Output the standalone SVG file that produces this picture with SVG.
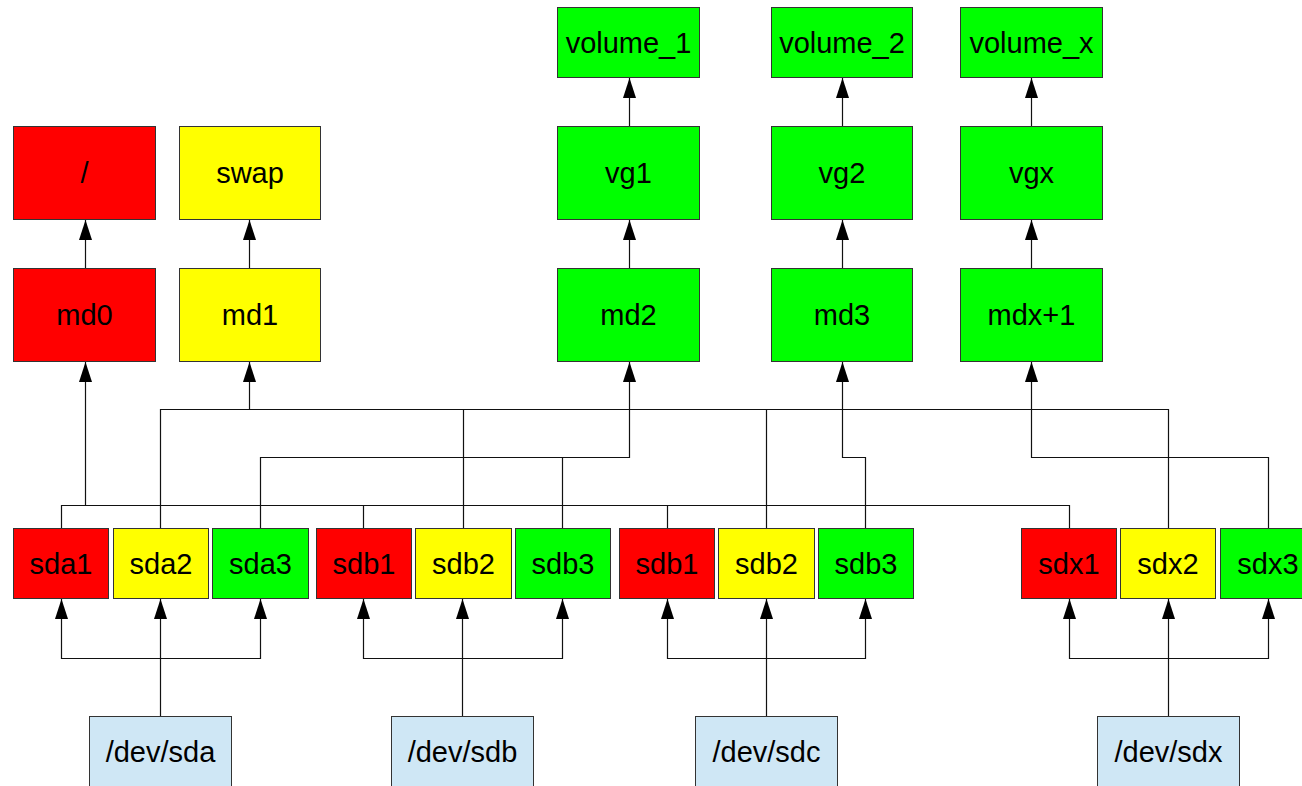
<svg xmlns="http://www.w3.org/2000/svg" width="1302" height="786" viewBox="0 0 1302 786">
<style>
rect{stroke:#333;stroke-width:1}
.r{fill:#ff0000}.y{fill:#ffff00}.g{fill:#00ff00}.b{fill:#cfe7f5}
text{font-family:"Liberation Sans",Arial,sans-serif;font-size:29px;fill:#000;text-anchor:middle}
.c path{fill:none;stroke:#111;stroke-width:1.2}
</style>
<defs>
<marker id="a" markerUnits="userSpaceOnUse" viewBox="0 0 20 13" refX="20" refY="6.5" markerWidth="20" markerHeight="13" orient="auto">
<path d="M0,0 L20,6.5 L0,13 Z" fill="#000"/>
</marker>
</defs>
<rect width="1302" height="786" fill="#fff" style="stroke:none"/>
<g class="c" id="connectors">
<path d="M85.5,268 V220" marker-end="url(#a)"/>
<path d="M249.5,268 V220" marker-end="url(#a)"/>
<path d="M629.5,268 V220" marker-end="url(#a)"/>
<path d="M842.5,268 V220" marker-end="url(#a)"/>
<path d="M1031.5,268 V220" marker-end="url(#a)"/>
<path d="M629.5,126 V78" marker-end="url(#a)"/>
<path d="M842.5,126 V78" marker-end="url(#a)"/>
<path d="M1031.5,126 V78" marker-end="url(#a)"/>
<path d="M61.5,528 V505.5 H1069.5 V528 M363.5,505.5 V528 M667.5,505.5 V528"/>
<path d="M85.5,505.5 V362" marker-end="url(#a)"/>
<path d="M160.5,528 V409.5 H1168.5 V528 M463.5,409.5 V528 M766.5,409.5 V528"/>
<path d="M249.5,409.5 V362" marker-end="url(#a)"/>
<path d="M260.5,528 V457.5 H629.5 V362" marker-end="url(#a)"/>
<path d="M562.5,457.5 V528"/>
<path d="M865.5,528 V457.5 H842.5 V362" marker-end="url(#a)"/>
<path d="M1268.5,528 V457.5 H1031.5 V362" marker-end="url(#a)"/>
<path d="M160.5,716 V599" marker-end="url(#a)"/>
<path d="M160.5,658.5 H61.5 V599" marker-end="url(#a)"/>
<path d="M160.5,658.5 H260.5 V599" marker-end="url(#a)"/>
<path d="M462.5,716 V599" marker-end="url(#a)"/>
<path d="M462.5,658.5 H363.5 V599" marker-end="url(#a)"/>
<path d="M462.5,658.5 H562.5 V599" marker-end="url(#a)"/>
<path d="M766.5,716 V599" marker-end="url(#a)"/>
<path d="M766.5,658.5 H667.5 V599" marker-end="url(#a)"/>
<path d="M766.5,658.5 H865.5 V599" marker-end="url(#a)"/>
<path d="M1168.5,716 V599" marker-end="url(#a)"/>
<path d="M1168.5,658.5 H1069.5 V599" marker-end="url(#a)"/>
<path d="M1168.5,658.5 H1268.5 V599" marker-end="url(#a)"/>
</g>
<g id="vol1"><rect class="g" x="557.5" y="7.5" width="142" height="70"/><text x="628.5" y="53">volume_1</text></g>
<g id="vol2"><rect class="g" x="771.5" y="7.5" width="141" height="70"/><text x="842" y="53">volume_2</text></g>
<g id="volx"><rect class="g" x="960.5" y="7.5" width="142" height="70"/><text x="1031.5" y="53">volume_x</text></g>
<g id="root"><rect class="r" x="13.5" y="126.5" width="142" height="93"/><text x="84.5" y="183">/</text></g>
<g id="swap"><rect class="y" x="179.5" y="126.5" width="141" height="93"/><text x="250" y="183">swap</text></g>
<g id="vg1"><rect class="g" x="557.5" y="126.5" width="142" height="93"/><text x="628.5" y="183">vg1</text></g>
<g id="vg2"><rect class="g" x="771.5" y="126.5" width="141" height="93"/><text x="842" y="183">vg2</text></g>
<g id="vgx"><rect class="g" x="960.5" y="126.5" width="142" height="93"/><text x="1031.5" y="183">vgx</text></g>
<g id="md0"><rect class="r" x="13.5" y="268.5" width="142" height="93"/><text x="84.5" y="325">md0</text></g>
<g id="md1"><rect class="y" x="179.5" y="268.5" width="141" height="93"/><text x="250" y="325">md1</text></g>
<g id="md2"><rect class="g" x="557.5" y="268.5" width="142" height="93"/><text x="628.5" y="325">md2</text></g>
<g id="md3"><rect class="g" x="771.5" y="268.5" width="141" height="93"/><text x="842" y="325">md3</text></g>
<g id="mdx1"><rect class="g" x="960.5" y="268.5" width="142" height="93"/><text x="1031.5" y="325">mdx+1</text></g>
<g id="sda1"><rect class="r" x="13.5" y="528.5" width="95" height="70"/><text x="61" y="574">sda1</text></g>
<g id="sda2"><rect class="y" x="113.5" y="528.5" width="95" height="70"/><text x="161" y="574">sda2</text></g>
<g id="sda3"><rect class="g" x="212.5" y="528.5" width="96" height="70"/><text x="260.5" y="574">sda3</text></g>
<g id="sdb1"><rect class="r" x="316.5" y="528.5" width="95" height="70"/><text x="364" y="574">sdb1</text></g>
<g id="sdb2"><rect class="y" x="415.5" y="528.5" width="96" height="70"/><text x="463.5" y="574">sdb2</text></g>
<g id="sdb3"><rect class="g" x="515.5" y="528.5" width="95" height="70"/><text x="563" y="574">sdb3</text></g>
<g id="sdc1"><rect class="r" x="619.5" y="528.5" width="95" height="70"/><text x="667" y="574">sdb1</text></g>
<g id="sdc2"><rect class="y" x="718.5" y="528.5" width="96" height="70"/><text x="766.5" y="574">sdb2</text></g>
<g id="sdc3"><rect class="g" x="818.5" y="528.5" width="95" height="70"/><text x="866" y="574">sdb3</text></g>
<g id="sdx1"><rect class="r" x="1021.5" y="528.5" width="95" height="70"/><text x="1069" y="574">sdx1</text></g>
<g id="sdx2"><rect class="y" x="1120.5" y="528.5" width="95" height="70"/><text x="1168" y="574">sdx2</text></g>
<g id="sdx3"><rect class="g" x="1220.5" y="528.5" width="95" height="70"/><text x="1268" y="574">sdx3</text></g>
<g id="devsda"><rect class="b" x="89.5" y="716.5" width="142" height="80"/><text x="160.5" y="762">/dev/sda</text></g>
<g id="devsdb"><rect class="b" x="391.5" y="716.5" width="142" height="80"/><text x="462.5" y="762">/dev/sdb</text></g>
<g id="devsdc"><rect class="b" x="695.5" y="716.5" width="142" height="80"/><text x="766.5" y="762">/dev/sdc</text></g>
<g id="devsdx"><rect class="b" x="1097.5" y="716.5" width="142" height="80"/><text x="1168.5" y="762">/dev/sdx</text></g>
</svg>
